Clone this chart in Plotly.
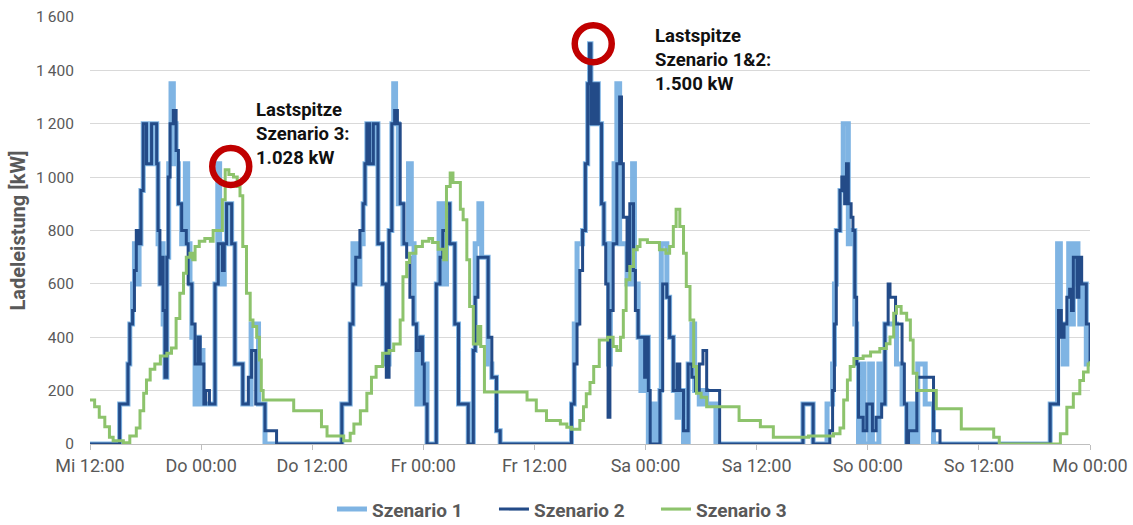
import plotly.graph_objects as go

# hours since Wednesday 12:00
x_tick_vals = [0, 12, 24, 36, 48, 60, 72, 84, 96, 108]
x_tick_text = ["Mi 12:00", "Do 00:00", "Do 12:00", "Fr 00:00", "Fr 12:00",
               "Sa 00:00", "Sa 12:00", "So 00:00", "So 12:00", "Mo 00:00"]
y_tick_vals = [0, 200, 400, 600, 800, 1000, 1200, 1400, 1600]
y_tick_text = ["0", "200", "400", "600", "800", "1\u2009000", "1\u2009200", "1\u2009400", "1\u2009600"]

# Szenario 1 (step changes: time [h], power [kW])
s1_t = [0, 3.2, 4.1, 4.3, 4.6, 4.8, 5.0, 5.3, 5.5, 5.75, 6.1, 6.65, 7.2, 7.35, 7.55, 7.75, 7.9, 8.1, 8.3, 8.5,
        8.75, 9.0, 9.3, 9.55, 9.9, 10.3, 10.55, 10.8, 11.0, 11.35, 11.6, 11.8, 12.0, 12.2, 13.5, 13.8, 14.0,
        14.3, 14.5, 14.75, 15.3, 15.65, 16.5, 17.4, 18.2, 18.9, 27.2, 28.1, 28.4, 28.8, 29.15, 29.5, 29.7,
        29.9, 30.2, 30.6, 31.1, 31.6, 32.0, 32.3, 32.6, 32.8, 33.0, 33.3, 33.8, 34.4, 34.7, 35.0, 35.3, 35.6,
        35.9, 36.1, 36.4, 37.4, 37.7, 38.0, 38.2, 38.5, 38.85, 39.4, 39.8, 40.85, 41.4, 41.6, 42.0, 42.3,
        43.0, 43.4, 43.9, 44.3, 52.0, 52.3, 52.6, 53.2, 53.5, 53.75, 53.95, 54.1, 54.3, 54.5, 54.7, 54.9,
        55.25, 55.5, 56.0, 56.2, 56.6, 56.9, 57.2, 58.0, 58.6, 58.8, 59.2, 59.5, 59.9, 60.3, 60.8, 61.2,
        61.55, 61.7, 62.3, 62.6, 63.0, 63.4, 63.7, 64.1, 64.6, 65.0, 65.3, 65.8, 66.2, 66.6, 67.6, 77.0,
        78.1, 79.6, 80.2, 80.4, 80.6, 81.0, 81.35, 81.9, 82.4, 82.6, 82.8, 83.0, 83.3, 83.6, 84.2, 84.5,
        85.2, 85.5, 85.85, 87.1, 87.7, 88.2, 88.4, 88.9, 89.4, 90.2, 91.1, 103.7, 104.5, 104.8, 105.1,
        105.5, 105.7, 105.9, 106.2, 106.4, 106.7, 106.9, 107.1, 107.6, 108.0]
s1_v = [0, 150, 300, 450, 600, 750, 600, 750, 950, 1200, 1050, 1200, 1050, 750, 600, 750, 450, 250, 700, 1050,
        1350, 1200, 1050, 900, 750, 1050, 750, 600, 400, 150, 400, 150, 350, 150, 600, 1050, 750,
        600, 750, 900, 750, 300, 150, 450, 150, 0, 150, 450, 750, 600, 750, 900, 1050,
        1200, 1050, 1200, 750, 600, 300, 800, 1200, 1350, 1200, 900, 750, 1050, 750, 450, 150, 400,
        150, 300, 0, 600, 900, 700, 600, 900, 750, 450, 150, 0, 350, 750, 900, 700,
        300, 250, 50, 0, 150, 450, 750, 800, 1050, 1350, 1500, 1200, 1350, 1200, 1350, 1200,
        900, 750, 300, 750, 1050, 1350, 750, 600, 1050, 600, 400, 200, 400, 0, 150, 0,
        200, 750, 550, 400, 200, 100, 200, 0, 300, 450, 200, 150, 200, 150, 0, 150,
        0, 150, 300, 600, 800, 950, 1200, 750, 800, 450, 300, 0, 300, 0, 300, 0,
        300, 150, 450, 300, 150, 0, 150, 0, 300, 150, 0, 150, 750, 450, 300,
        450, 750, 450, 600, 750, 600, 450, 600, 300, 300]

# Szenario 2
s2_t = [0, 3.2, 4.1, 4.3, 4.6, 4.8, 5.0, 5.3, 5.5, 5.75, 6.1, 6.65, 7.2, 7.35, 7.55, 7.75, 7.9, 8.1, 8.3, 8.45,
        8.65, 9.0, 9.3, 9.55, 9.9, 10.4, 10.6, 11.0, 11.35, 11.7, 11.9, 12.3, 12.5, 12.9, 13.5, 13.85, 14.3,
        14.5, 14.75, 15.3, 15.65, 16.5, 17.1, 17.45, 17.9, 18.9, 20.15, 27.2, 28.1, 28.4, 28.7, 29.15, 29.5,
        29.7, 29.9, 30.2, 30.6, 31.1, 31.6, 32.0, 32.3, 32.6, 32.9, 33.2, 33.5, 33.9, 34.2, 34.55, 34.9,
        35.25, 35.6, 35.9, 36.1, 36.4, 37.4, 37.8, 38.1, 38.5, 38.85, 39.4, 39.8, 40.85, 41.4, 41.6, 41.9,
        43.0, 43.4, 43.9, 44.3, 52.0, 52.3, 52.6, 52.9, 53.2, 53.5, 53.75, 53.95, 54.1, 54.3, 54.5, 54.7,
        54.9, 55.25, 55.5, 55.7, 55.95, 56.15, 56.5, 56.9, 57.2, 57.4, 57.6, 58.0, 58.3, 58.7, 58.9, 59.2,
        59.9, 60.05, 60.3, 60.5, 61.55, 61.85, 62.3, 62.6, 63.0, 63.4, 63.7, 64.1, 64.6, 65.0, 65.4, 65.8,
        66.2, 66.6, 68.0, 77.0, 78.1, 79.9, 80.2, 80.4, 80.6, 81.0, 81.2, 81.5, 81.7, 81.9, 82.2, 82.4,
        82.6, 82.8, 83.0, 83.5, 83.9, 84.5, 84.9, 85.5, 85.85, 86.2, 86.4, 87.0, 87.7, 87.95, 88.2, 88.4,
        89.3, 91.1, 91.8, 103.7, 104.6, 104.9, 105.2, 105.5, 105.8, 106.0, 106.2, 106.6, 106.8, 107.1,
        107.6, 108.0]
s2_v = [0, 150, 300, 450, 500, 650, 800, 750, 950, 1200, 1050, 1200, 1050, 800, 600, 700, 500, 250, 700, 1000,
        1200, 1250, 1100, 900, 800, 750, 600, 450, 300, 400, 300, 150, 200, 150, 600, 750, 650,
        750, 900, 750, 300, 150, 250, 350, 150, 50, 0, 150, 450, 600, 700, 800, 900,
        1050, 1200, 1050, 1200, 750, 600, 250, 800, 1200, 1250, 1200, 900, 750, 700, 550, 450,
        350, 400, 300, 150, 0, 600, 700, 800, 900, 750, 450, 150, 0, 350, 550, 700,
        400, 250, 50, 0, 150, 300, 450, 650, 800, 1050, 1350, 1500, 1200, 1350, 1200, 1350,
        1200, 900, 750, 600, 100, 500, 750, 1050, 1300, 1050, 850, 650, 900, 650, 500, 400,
        250, 400, 200, 0, 200, 600, 550, 400, 200, 300, 200, 50, 300, 250, 200, 300,
        350, 200, 0, 150, 0, 50, 200, 450, 800, 950, 1000, 900, 1050, 900, 850, 800,
        550, 300, 100, 50, 150, 50, 100, 150, 450, 600, 550, 450, 300, 150, 0, 50,
        250, 50, 0, 150, 500, 400, 450, 550, 580, 500, 700, 550, 700, 600,
        450, 300]

# Szenario 3
s3_t = [0, 0.5, 1.0, 1.6, 2.1, 2.5, 3.6, 4.3, 5.0, 5.4, 5.8, 6.1, 6.5, 7.0, 7.6, 8.3, 8.8, 9.3, 9.7, 10.1,
        10.4, 10.8, 11.1, 11.35, 11.8, 12.4, 13.0, 13.3, 13.9, 14.3, 14.6, 15.0, 15.5, 15.9, 16.2, 16.5,
        16.9, 17.3, 17.6, 18.0, 18.3, 18.5, 18.7, 22.0, 25.0, 25.6, 27.4, 28.1, 28.5, 29.2, 29.9, 30.4,
        30.9, 31.6, 32.3, 32.8, 33.5, 33.8, 34.2, 34.5, 35.2, 35.9, 36.6, 37.0, 37.6, 38.2, 38.5, 38.9,
        39.2, 40.0, 40.3, 40.7, 41.0, 41.4, 41.9, 42.2, 42.6, 47.2, 48.2, 49.3, 50.8, 51.5, 52.0, 52.9,
        53.3, 53.6, 54.0, 54.4, 55.0, 55.9, 56.5, 56.9, 57.3, 57.6, 57.9, 58.3, 58.7, 59.1, 59.4, 60.2,
        61.5, 62.2, 62.6, 63.0, 63.3, 63.7, 64.1, 64.4, 64.8, 65.2, 65.5, 66.0, 66.6, 70.1, 72.4, 73.8,
        77.6, 80.3, 81.0, 81.4, 81.8, 82.1, 82.5, 83.5, 84.3, 85.3, 86.0, 86.4, 86.8, 87.1, 87.6, 88.2,
        88.6, 88.9, 89.3, 91.4, 94.1, 97.6, 98.2, 104.4, 104.8, 105.5, 106.2, 106.9, 107.3, 107.8, 108.0]
s3_v = [165, 140, 100, 65, 25, 12, 5, 30, 60, 125, 190, 240, 280, 300, 330, 340, 360, 470, 565, 640,
        700, 715, 690, 740, 760, 770, 760, 800, 800, 915, 1028, 1010, 1000, 965, 930, 740,
        565, 465, 440, 400, 315, 200, 165, 125, 65, 30, 12, 40, 75, 125, 190, 250,
        290, 340, 350, 375, 465, 627, 680, 715, 740, 760, 770, 755, 730, 690, 965, 1015,
        980, 880, 840, 690, 515, 375, 440, 365, 195, 165, 125, 88, 75, 63, 55, 88,
        140, 188, 230, 290, 390, 400, 365, 350, 400, 500, 615, 665, 728, 740, 765, 755,
        728, 715, 740, 815, 880, 815, 715, 590, 465, 290, 190, 175, 140, 88, 65, 25,
        30, 38, 60, 165, 240, 290, 320, 330, 345, 358, 376, 401, 490, 515, 490, 465,
        390, 265, 200, 132, 56, 25, 0, 0, 38, 138, 188, 238, 270, 300, 310]

# peak markers: (time, kW)
peak_s3 = (15.2, 1040)
peak_s12 = (54.35, 1500)

FONT = "Roboto"
GREY = "#595959"

fig = go.Figure()
fig.add_trace(go.Scatter(x=s1_t, y=s1_v, mode="lines", name="Szenario 1", line_shape="hv",
                         line=dict(color="rgba(120,176,226,0.95)", width=5)))
fig.add_trace(go.Scatter(x=s2_t, y=s2_v, mode="lines", name="Szenario 2", line_shape="hv",
                         line=dict(color="#234B88", width=3)))
fig.add_trace(go.Scatter(x=s3_t, y=s3_v, mode="lines", name="Szenario 3", line_shape="hv",
                         line=dict(color="#8DC36C", width=3)))

for (px, py) in (peak_s3, peak_s12):
    fig.add_shape(type="circle", xref="x", yref="y", xsizemode="pixel", ysizemode="pixel",
                  xanchor=px, yanchor=py, x0=-18.5, x1=18.5, y0=-18.5, y1=18.5,
                  line=dict(color="#C00000", width=6.5), layer="above")

fig.add_annotation(x=17.75, y=1300, xref="x", yref="y", xanchor="left", yanchor="top",
                   text="Lastspitze<br>Szenario 3:<br>1.028 kW", showarrow=False, align="left",
                   font=dict(family=FONT, size=18.5, color="#111111", weight="bold"))
fig.add_annotation(x=60.75, y=1578, xref="x", yref="y", xanchor="left", yanchor="top",
                   text="Lastspitze<br>Szenario 1&2:<br>1.500 kW", showarrow=False, align="left",
                   font=dict(family=FONT, size=18.5, color="#111111", weight="bold"))

fig.update_layout(
    width=1133, height=525,
    margin=dict(l=90, r=43, t=17, b=81, autoexpand=False),
    paper_bgcolor="white", plot_bgcolor="white",
    font=dict(family=FONT, color=GREY),
    showlegend=True,
    legend=dict(orientation="h", xref="container", yref="container", x=0.293, y=0.03,
                xanchor="left", yanchor="middle", entrywidth=117, entrywidthmode="pixels",
                font=dict(family=FONT, size=19, color=GREY, weight="bold")),
)
fig.update_xaxes(range=[0, 108], tickvals=x_tick_vals, ticktext=x_tick_text, automargin=False,
                 showgrid=False, zeroline=False, showline=True, linecolor="#BFBFBF", linewidth=1,
                 ticks="outside", ticklen=5, tickcolor="#BFBFBF",
                 tickfont=dict(family=FONT, size=18, color=GREY))
fig.update_yaxes(range=[0, 1600], tickvals=y_tick_vals, ticktext=y_tick_text, automargin=False,
                 showgrid=True, gridcolor="#D9D9D9", gridwidth=1, zeroline=False, showline=False,
                 ticks="outside", ticklen=12, tickcolor="rgba(0,0,0,0)",
                 tickfont=dict(family=FONT, size=15.5, color=GREY),
                 title=dict(text="Ladeleistung [kW]", standoff=4,
                            font=dict(family=FONT, size=20, color=GREY, weight="bold")))

fig.write_html("out.html")
